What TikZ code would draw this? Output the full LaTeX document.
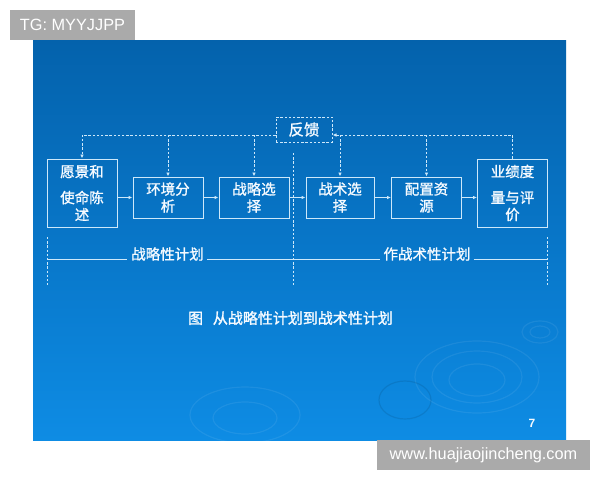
\documentclass[tikz,border=0pt]{standalone}
\usepackage{fontspec}
\setmainfont{Liberation Sans}
\newfontfamily\cjk[FakeBold=1.2]{Noto Sans CJK SC}
\newfontfamily\cjkcap[FakeBold=1.5]{Noto Sans CJK SC}
\usetikzlibrary{arrows.meta,calc}
\definecolor{ln}{RGB}{205,232,250}
\definecolor{tx}{RGB}{245,250,255}
\definecolor{slidetop}{RGB}{4,98,172}
\definecolor{slidemid}{RGB}{8,118,200}
\definecolor{slidebot}{RGB}{14,140,228}
\definecolor{tag}{RGB}{170,170,170}
\tikzset{
  box/.style={draw=ln, line width=1pt, minimum width=70pt, inner sep=0pt, align=center,
    text=tx, font=\cjk\fontsize{14.5}{17}\selectfont},
  flow/.style={draw=ln, line width=1pt, -{Latex[length=4pt,width=3.5pt]}},
  fb/.style={draw=ln, line width=1pt, dash pattern=on 2.4pt off 1.8pt},
  fbarrow/.style={fb, -{Latex[length=4pt,width=3.5pt]}},
  rule/.style={draw=ln, line width=1pt},
  lbl/.style={text=tx, inner sep=0pt, font=\cjk\fontsize{14.5}{17}\selectfont},
  ripple/.style={draw=white, draw opacity=0.07, line width=1.2pt},
  tagbox/.style={fill=tag, text=white, inner sep=0pt, font=\fontsize{16.3}{18}\selectfont}
}
\begin{document}
\begin{tikzpicture}[x=1pt,y=-1pt]
\useasboundingbox (0,0) rectangle (600,480);
\fill[white] (0,0) rectangle (600,480);
% slide background
\shade[top color=slidetop, bottom color=slidebot, middle color=slidemid] (33,40) rectangle (566,440);
% ripples
\begin{scope}
\clip (33,40) rectangle (566,440);
\draw[ripple] (540,332) ellipse (18 and 11);
\draw[ripple] (540,332) ellipse (10 and 6);
\draw[ripple] (477,377) ellipse (62 and 36);
\draw[ripple] (477,377) ellipse (45 and 26);
\draw[ripple] (477,380) ellipse (28 and 16);
\draw[ripple, draw=black, draw opacity=0.09] (405,400) ellipse (26 and 19);
\draw[ripple] (245,415) ellipse (55 and 28);
\draw[ripple] (245,418) ellipse (32 and 16);
\end{scope}
% tags
\node[tagbox, minimum width=125pt, minimum height=30pt] (tg) at (72.5,25) {TG: MYYJJPP};
\node[tagbox, minimum width=213pt, minimum height=30pt] (www) at (483.5,455) {www.huajiaojincheng.com};
% boxes
\node[box, minimum height=68pt] (b1) at (82,193) {愿景和\\[9pt]使命陈\\述};
\node[box, minimum height=41pt] (b2) at (168,197.5) {环境分\\析};
\node[box, minimum height=41pt] (b3) at (254,197.5) {战略选\\择};
\node[box, minimum height=41pt, minimum width=68pt] (b4) at (340,197.5) {战术选\\择};
\node[box, minimum height=41pt] (b5) at (426.5,197.5) {配置资\\源};
\node[box, minimum height=68pt] (b6) at (512.5,193) {业绩度\\[9pt]量与评\\价};
% feedback box
\node[fb, minimum width=56pt, minimum height=25pt, inner sep=0pt, text=tx,
  font=\cjk\fontsize{15.5}{17}\selectfont] (fbk) at (304,129.5) {反馈};
% solid flow arrows
\draw[flow] (b1.east |- b2.center) -- (b2.west);
\draw[flow] (b2.east) -- (b3.west);
\draw[flow] (b3.east) -- (b4.west);
\draw[flow] (b4.east) -- (b5.west);
\draw[flow] (b5.east) -- (b6.west |- b5.center);
% feedback loops
\coordinate (fl) at (fbk.west |- 0,135);
\coordinate (fr) at (fbk.east |- 0,135);
\draw[fbarrow] (fl) -| (b1.north);
\draw[fbarrow] (b2.north |- fl) -- (b2.north);
\draw[fbarrow] (b3.north |- fl) -- (b3.north);
\draw[fbarrow] (b6.north) |- (fr);
\draw[fbarrow] (b4.north |- fr) -- (b4.north);
\draw[fbarrow] (b5.north |- fr) -- (b5.north);
% dividers
\coordinate (dm1) at (293,153);
\coordinate (dm2) at (293,285);
\coordinate (dl1) at (47,237);
\coordinate (dl2) at (47,285);
\coordinate (dr1) at (547,237);
\coordinate (dr2) at (547,285);
\draw[fb] (dm1) -- (dm2);
\draw[fb] (dl1) -- (dl2);
\draw[fb] (dr1) -- (dr2);
% planning labels
\node[lbl] (sp) at (167.5,254) {战略性计划};
\node[lbl] (tp) at (427,254) {作战术性计划};
\coordinate (hl) at (47,259);
\coordinate (hr) at (547,259);
\draw[rule] (hl) -- ($(sp.west |- hl)+(-4,0)$);
\draw[rule] ($(sp.east |- hl)+(3,0)$) -- ($(tp.west |- hl)+(-3,0)$);
\draw[rule] ($(tp.east |- hl)+(3,0)$) -- (hr);
% caption
\node[lbl, font=\cjkcap\fontsize{15}{17}\selectfont] (cap) at (290.5,318) {图\hspace{0.65em}从战略性计划到战术性计划};
\node[text=tx, inner sep=0pt, font=\bfseries\fontsize{12}{13}\selectfont] (pg) at (532,423) {7};
\end{tikzpicture}
\end{document}
